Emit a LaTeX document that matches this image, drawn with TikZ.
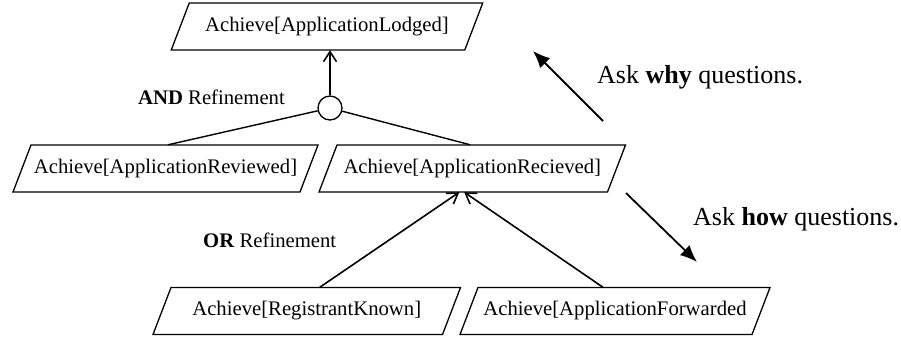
\documentclass[tikz,border=0pt]{standalone}
\usepackage{fontspec}
\setmainfont{Liberation Serif}
\usetikzlibrary{arrows.meta,calc}
\tikzset{
  goaltext/.style={inner sep=0pt, font=\fontsize{20.7}{24}\selectfont, minimum height=47pt},
  goalline/.style={line width=1.3pt, line join=miter},
  andnode/.style={circle, draw, line width=1.3pt, minimum size=24pt, inner sep=0pt},
  refline/.style={line width=1.4pt},
  refarrow/.style={line width=1.6pt, -{Straight Barb[length=10pt,width=13pt,line width=1.6pt]}},
  askarrow/.style={line width=1.8pt, -{Latex[length=17pt,width=14pt]}},
  labeltext/.style={inner sep=0pt, anchor=base west, font=\fontsize{20.7}{24}\selectfont},
  asktext/.style={inner sep=0pt, anchor=base west, font=\fontsize{26}{30}\selectfont}
}
\newcommand\goalbox[5]{%
  \node[goaltext, minimum width={2*#4*1pt}] (#1) at (#2,#3) {#5};
  \draw[goalline] (#2-#4-9,#3+23.5) -- (#2-#4+9,#3-23.5) -- (#2+#4+9,#3-23.5) -- (#2+#4-9,#3+23.5) -- cycle;
}
\begin{document}
\begin{tikzpicture}[x=1pt,y=-1pt]
\fill[white] (0,0) rectangle (901,338);
\useasboundingbox (0,0) rectangle (901,338);

\goalbox{g0}{327}{26.5}{146.75}{Achieve[ApplicationLodged]}
\goalbox{g1}{165.5}{168.5}{143.5}{Achieve[ApplicationReviewed]}
\goalbox{g2}{472.25}{168.5}{144.25}{Achieve[ApplicationRecieved]}
\goalbox{g3}{306.75}{311}{144.75}{Achieve[RegistrantKnown]}
\goalbox{g4}{615}{311}{146}{Achieve[ApplicationForwarded}

\node[andnode] (c) at (330,108) {};

\draw[refarrow] (c.north) -- (c.north |- g0.south);
\draw[refline] (c) -- ($(g1.north)+(2.5,0)$);
\draw[refline] (c) -- ($(g2.north)+(-2,0)$);
\draw[refarrow] ($(g3.north)+(13,0)$) -- ($(g2.south)+(-13,0)$);
\draw[refarrow] ($(g4.north)+(-12,0)$) -- ($(g2.south)+(-8,0)$);

\node[labeltext] (andl) at (138,104) {\textbf{AND} Refinement};
\node[labeltext] (orl) at (203,247) {\textbf{OR} Refinement};

\coordinate (why1) at (603,121);
\coordinate (why2) at (533,51);
\coordinate (how1) at (626,193);
\coordinate (how2) at (697,262);
\draw[askarrow] (why1) -- (why2);
\draw[askarrow] (how1) -- (how2);

\node[asktext] (askwhy) at (597,83) {Ask \textbf{why} questions.};
\node[asktext] (askhow) at (693,225) {Ask \textbf{how} questions.};
\end{tikzpicture}
\end{document}
